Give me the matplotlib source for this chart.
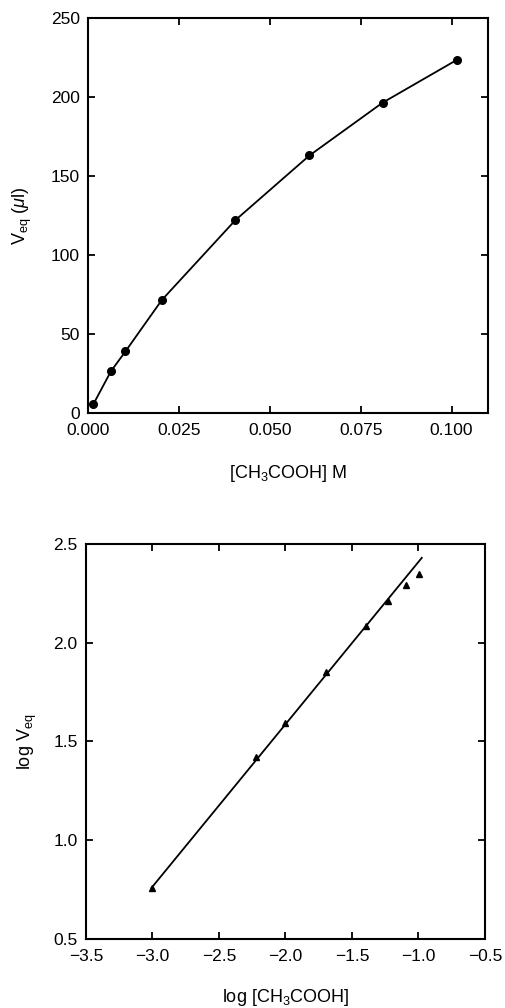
import numpy as np
import matplotlib
matplotlib.use("Agg")
import matplotlib.pyplot as plt

plt.rcParams['font.family'] = ['Liberation Sans', 'DejaVu Sans']
plt.rcParams['mathtext.fontset'] = 'custom'
plt.rcParams['mathtext.rm'] = 'Liberation Sans'
plt.rcParams['mathtext.it'] = 'Liberation Sans:italic'
plt.rcParams['mathtext.default'] = 'regular'

# Top panel: equivalence volume vs acetic acid concentration
conc = [0.0015, 0.0063, 0.0103, 0.0203, 0.0405, 0.0609, 0.0810, 0.1015]
veq = [5.7, 26.4, 39.0, 71.5, 122.0, 163.0, 196.4, 223.6]

# Bottom panel: log-log plot
log_conc = [-3.006, -2.22, -2.0, -1.695, -1.395, -1.227, -1.094, -0.996]
log_veq = [0.76, 1.42, 1.595, 1.853, 2.085, 2.212, 2.29, 2.346]
fit_x = [-3.006, -0.975]
fit_y = [0.76, 2.43]

fig = plt.figure(figsize=(5.05, 10.08), dpi=100)

def style(ax):
    for s in ax.spines.values():
        s.set_linewidth(1.5)
    ax.tick_params(direction='in', length=5, width=1.3, top=True, right=True,
                   labelsize=12.5, pad=7.5)

ax1 = fig.add_axes([0.1743, 0.5903, 0.792, 0.3918])
ax1.plot(conc, veq, color='black', lw=1.3, marker='o', ms=5.5)
ax1.set_xlim(0, 0.11)
ax1.set_ylim(0, 250)
ax1.set_xticks([0.0, 0.025, 0.05, 0.075, 0.1])
ax1.set_xticklabels(['0.000', '0.025', '0.050', '0.075', '0.100'])
ax1.set_yticks([0, 50, 100, 150, 200, 250])
style(ax1)
ax1.tick_params(axis='y', pad=6)
ax1.set_xlabel('[CH$_3$COOH] M', fontsize=13, labelpad=18)
ax1.set_ylabel(r'V$_{eq}$ ($\mathit{\mu}$l)', fontsize=13, labelpad=12)

ax2 = fig.add_axes([0.1703, 0.0685, 0.790, 0.3918])
ax2.plot(fit_x, fit_y, color='black', lw=1.3)
ax2.plot(log_conc, log_veq, linestyle='none', color='black', marker='^', ms=4.5)
ax2.set_xlim(-3.5, -0.5)
ax2.set_ylim(0.5, 2.5)
ax2.set_xticks([-3.5, -3.0, -2.5, -2.0, -1.5, -1.0, -0.5])
ax2.set_yticks([0.5, 1.0, 1.5, 2.0, 2.5])
ax2.yaxis.set_major_formatter(matplotlib.ticker.FormatStrFormatter('%.1f'))
ax2.xaxis.set_major_formatter(matplotlib.ticker.FuncFormatter(lambda v, p: f'{v:.1f}'.replace('-', '\u2212')))
style(ax2)
ax2.tick_params(axis='y', pad=6)
ax2.set_xlabel('log [CH$_3$COOH]', fontsize=13, labelpad=16)
ax2.set_ylabel('log V$_{eq}$', fontsize=13, labelpad=10)

fig.savefig('out.png', dpi=100)
